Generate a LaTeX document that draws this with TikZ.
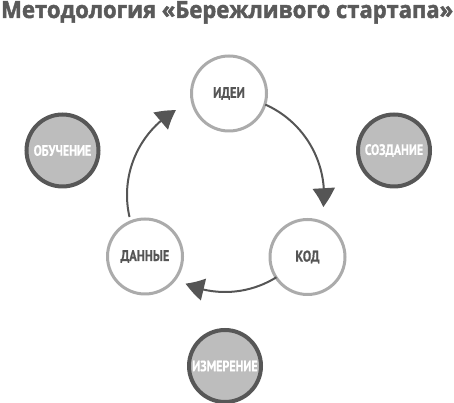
\documentclass[tikz,border=0pt]{standalone}
\usepackage{fontspec}
\setmainfont{PT Sans}
\newfontfamily\titlefont[FakeBold=2]{Open Sans}
\newfontfamily\labelfont[FakeStretch=0.8,FakeBold=0.6]{PT Sans}
\usetikzlibrary{arrows.meta,bending,calc}
\definecolor{titlegray}{HTML}{5A5A5A}
\definecolor{innergray}{HTML}{ABABAB}
\definecolor{outerborder}{HTML}{575757}
\definecolor{fillgray}{HTML}{BDBDBD}
\definecolor{textgray}{HTML}{555555}
\definecolor{arrowgray}{HTML}{555555}
\begin{document}
\begin{tikzpicture}[x=1pt,y=1pt,
  innernode/.style={circle, draw=innergray, line width=3pt, fill=white,
    minimum size=75pt, inner sep=0pt,
    font=\labelfont\bfseries\fontsize{15.5}{16}\selectfont, text=textgray},
  outernode/.style={circle, draw=outerborder, line width=4pt, fill=fillgray,
    minimum size=72pt, inner sep=0pt,
    font=\labelfont\bfseries\fontsize{15}{16}\selectfont, text=white},
  cyc/.style={draw=arrowgray, line width=2pt,
    -{Triangle[width=22pt,length=19pt,bend]}}]
\useasboundingbox (0,0) rectangle (454,403);
% title
\node[anchor=base west, inner sep=0pt, text=titlegray] (title) at (1,385)
  {\resizebox{452pt}{\height}{\titlefont\bfseries\fontsize{23.5}{25}\selectfont Методология «Бережливого стартапа»}};
% cycle center
\coordinate (c) at (225,208);
% nodes
\node[innernode] (idei) at (229,309.5) {ИДЕИ};
\node[innernode] (kod) at (307.5,146) {КОД};
\node[innernode] (dannye) at (145,146.5) {ДАННЫЕ};
\node[outernode] (obuch) at (62.5,252.5) {ОБУЧЕНИЕ};
\node[outernode] (sozd) at (394,252.5) {СОЗДАНИЕ};
\node[outernode] (izm) at (225,37) {ИЗМЕРЕНИЕ};
% arrows
\draw[cyc] ($(c)+(66:99)$) arc[start angle=66, end angle=-7, radius=99];
\draw[cyc] ($(c)+(-58:97)$) arc[start angle=-58, end angle=-114, radius=97];
\draw[cyc] ($(c)+(193:98)$) arc[start angle=193, end angle=120, radius=98];
\end{tikzpicture}
\end{document}
